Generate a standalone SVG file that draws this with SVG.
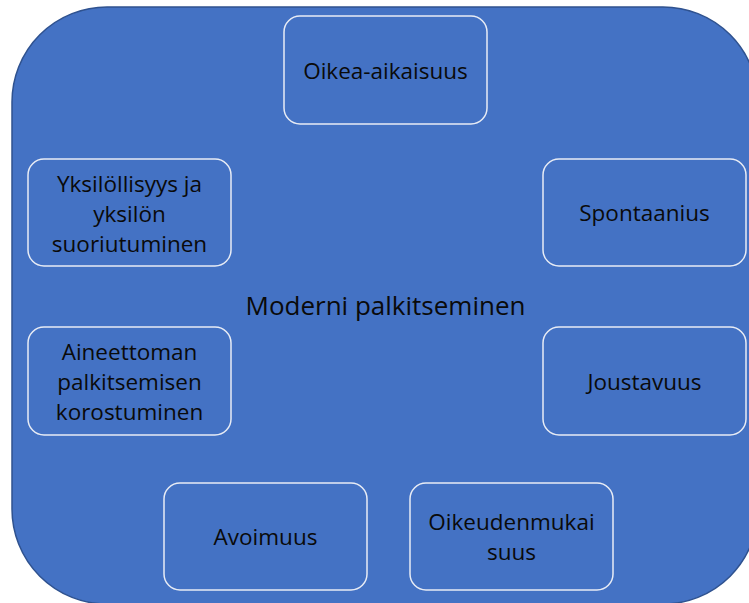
<svg xmlns="http://www.w3.org/2000/svg" width="749" height="603" viewBox="0 0 749 603">
<style>
.bg{fill:#4472C4;stroke:#2F528F;stroke-width:1.5}
.box{fill:#4472C4;stroke:#E8ECF5;stroke-width:1.5}
text{font-family:"Open Sans","Noto Sans",sans-serif;font-size:22.5px;fill:#0a0a0a;text-anchor:middle}
.title{font-size:26px}
</style>
<rect width="749" height="603" fill="#ffffff"/>
<g id="background"><rect class="bg" x="12" y="7" width="746" height="597" rx="95" ry="95"/></g>
<g id="title"><text class="title" x="385.5" y="315">Moderni palkitseminen</text></g>
<g id="n1"><rect class="box" x="284" y="16" width="203" height="108" rx="16"/><text x="385.5" y="79">Oikea-aikaisuus</text></g>
<g id="n2"><rect class="box" x="28" y="159" width="203" height="107" rx="16"/><text x="129.5" y="192">Yksilöllisyys ja</text><text x="129.5" y="222">yksilön</text><text x="129.5" y="252">suoriutuminen</text></g>
<g id="n3"><rect class="box" x="543" y="159" width="203" height="107" rx="16"/><text x="644.5" y="221">Spontaanius</text></g>
<g id="n4"><rect class="box" x="28" y="327" width="203" height="108" rx="16"/><text x="129.5" y="360">Aineettoman</text><text x="129.5" y="390">palkitsemisen</text><text x="129.5" y="420">korostuminen</text></g>
<g id="n5"><rect class="box" x="543" y="327" width="203" height="108" rx="16"/><text x="644.5" y="390">Joustavuus</text></g>
<g id="n6"><rect class="box" x="164" y="483" width="203" height="107" rx="16"/><text x="265.5" y="545">Avoimuus</text></g>
<g id="n7"><rect class="box" x="410" y="483" width="203" height="107" rx="16"/><text x="511.5" y="530">Oikeudenmukai</text><text x="511.5" y="560">suus</text></g>
<g id="connectors"/>
</svg>
